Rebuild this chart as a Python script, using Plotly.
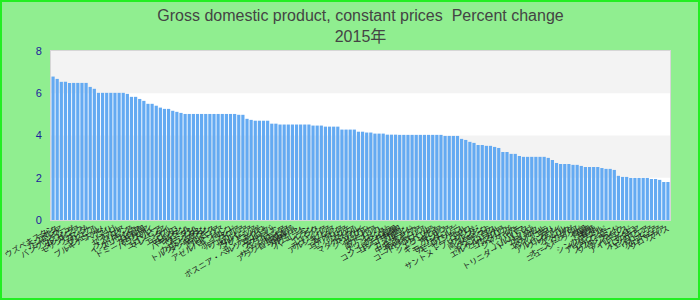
import plotly.graph_objects as go

title_line1 = "Gross domestic product, constant prices  Percent change"
title_line2 = "2015年"

countries = [
    "ウズベキスタン", "ラオス", "カンボジア", "ミャンマー", "バングラデシュ", "ルワンダ", "タンザニア", "モザンビーク",
    "ウガンダ", "ガーナ", "ザンビア", "ニジェール", "ブルキナファソ", "ベナン", "マリ", "トーゴ", "セネガル", "ケニア",
    "フィリピン", "インドネシア", "スリランカ", "パナマ", "ドミニカ共和国", "ボリビア", "パラグアイ", "ペルー",
    "コロンビア", "マレーシア", "タイ", "エジプト", "モロッコ", "ヨルダン", "パキスタン", "ネパール", "ブータン",
    "モンゴル", "カザフスタン", "トルクメニスタン", "タジキスタン", "キルギス", "アルメニア", "ジョージア",
    "アゼルバイジャン", "トルコ", "ポーランド", "ルーマニア", "ブルガリア", "セルビア", "アルバニア", "マケドニア",
    "コソボ", "モンテネグロ", "ボスニア・ヘルツェゴビナ", "モルドバ", "ウクライナ", "ベラルーシ", "ロシア",
    "サウジアラビア", "アラブ首長国連邦", "カタール", "オマーン", "クウェート", "バーレーン", "イラン", "イラク",
    "レバノン", "チュニジア", "アルジェリア", "リビア", "スーダン", "エチオピア", "エリトリア", "ジブチ", "ソマリア",
    "マダガスカル", "マラウイ", "ジンバブエ", "ボツワナ", "ナミビア", "南アフリカ", "レソト", "スワジランド",
    "アンゴラ", "コンゴ民主共和国", "コンゴ共和国", "ガボン", "カメルーン", "チャド", "中央アフリカ", "赤道ギニア",
    "ナイジェリア", "コートジボワール", "リベリア", "シエラレオネ", "ギニア", "ギニアビサウ", "ガンビア",
    "モーリタニア", "カーボベルデ", "モーリシャス", "セーシェル", "コモロ", "サントメ・プリンシペ", "ブルンジ",
    "南スーダン", "メキシコ", "グアテマラ", "ホンジュラス", "エルサルバドル", "ニカラグア", "コスタリカ", "ベリーズ",
    "ジャマイカ", "ハイチ", "バハマ", "バルバドス", "トリニダード・トバゴ", "ガイアナ", "スリナム", "エクアドル",
    "ベネズエラ", "チリ", "アルゼンチン", "ウルグアイ", "ブラジル", "アメリカ", "カナダ", "オーストラリア",
    "ニュージーランド", "韓国", "台湾", "香港", "シンガポール", "イスラエル", "アイスランド", "ノルウェー",
    "スウェーデン", "フィンランド", "デンマーク", "イギリス", "アイルランド", "チェコ", "スロバキア", "ハンガリー",
    "エストニア", "ラトビア", "リトアニア", "スロベニア", "クロアチア", "スイス",
]

growth = [
    6.79, 6.68, 6.54, 6.54, 6.49, 6.49, 6.49, 6.49, 6.49, 6.30,
    6.21, 6.02, 6.02, 6.02, 6.02, 6.02, 6.02, 6.02, 5.97, 5.83,
    5.83, 5.73, 5.64, 5.50, 5.50, 5.41, 5.32, 5.26, 5.26, 5.17,
    5.12, 5.07, 5.02, 5.02, 5.02, 5.02, 5.02, 5.02, 5.02, 5.02,
    5.02, 5.02, 5.02, 5.02, 5.02, 4.98, 4.98, 4.79, 4.74, 4.70,
    4.70, 4.70, 4.70, 4.56, 4.56, 4.52, 4.52, 4.52, 4.52, 4.52,
    4.52, 4.52, 4.52, 4.47, 4.47, 4.47, 4.42, 4.42, 4.42, 4.42,
    4.28, 4.28, 4.28, 4.28, 4.18, 4.18, 4.14, 4.14, 4.09, 4.09,
    4.09, 4.04, 4.04, 4.04, 4.03, 4.03, 4.03, 4.03, 4.03, 4.03,
    4.03, 4.03, 4.03, 4.03, 4.03, 3.98, 3.98, 3.98, 3.98, 3.84,
    3.79, 3.70, 3.65, 3.55, 3.55, 3.51, 3.51, 3.46, 3.41, 3.22,
    3.22, 3.13, 3.13, 3.03, 2.99, 2.99, 2.99, 2.99, 2.99, 2.99,
    2.94, 2.84, 2.70, 2.65, 2.65, 2.65, 2.61, 2.61, 2.56, 2.51,
    2.51, 2.51, 2.51, 2.46, 2.42, 2.42, 2.37, 2.09, 2.04, 2.04,
    1.99, 1.99, 1.99, 1.99, 1.99, 1.94, 1.94, 1.90, 1.80, 1.80,
]

y_ticks = [0, 2, 4, 6, 8]
bands = [(2, 4), (6, 8)]

FONT = "Liberation Sans, Arial, Noto Sans CJK JP, sans-serif"
W, H = 700, 300
M = dict(l=51, r=30, t=51, b=80)
pw = W - M["l"] - M["r"]
ph = H - M["t"] - M["b"]

fig = go.Figure(
    go.Bar(
        x=countries,
        y=growth,
        marker=dict(color="rgb(100,170,242)", line=dict(width=0)),
        hoverinfo="x+y",
    )
)

shapes = []
for lo, hi in bands:
    shapes.append(dict(type="rect", xref="paper", yref="y", x0=0, x1=1, y0=lo, y1=hi,
                       fillcolor="#f3f3f3", line=dict(width=0), layer="below"))
# outer frame around the whole picture
shapes.append(dict(type="rect", xref="paper", yref="paper",
                   x0=-(M["l"] - 1) / pw, x1=1 + (M["r"] - 1) / pw,
                   y0=-(M["b"] - 1) / ph, y1=1 + (M["t"] - 1) / ph,
                   line=dict(color="#22ee22", width=2), fillcolor="rgba(0,0,0,0)", layer="above"))

fig.update_layout(
    width=W, height=H,
    margin=dict(l=M["l"], r=M["r"], t=M["t"], b=M["b"], autoexpand=False),
    paper_bgcolor="#90ee90",
    plot_bgcolor="#ffffff",
    bargap=0.22,
    showlegend=False,
    font=dict(family=FONT),
    title=dict(
        text=title_line1 + "<br>" + title_line2,
        x=0.5, xanchor="center", xref="paper",
        y=0.93, yanchor="top", yref="container",
        font=dict(size=16, color="#444444", family=FONT),
    ),
    shapes=shapes,
    xaxis=dict(
        type="category",
        tickmode="linear", dtick=1,
        tickangle=-30,
        tickfont=dict(size=8, color="#222222", family=FONT),
        showgrid=False, zeroline=False,
        showline=True, linecolor="#d6d6d6", linewidth=1, mirror=True,
        ticks="",
        automargin=False,
    ),
    yaxis=dict(
        range=[0, 8],
        tickmode="array", tickvals=y_ticks,
        tickfont=dict(size=11, color="#1c1c9c", family=FONT),
        showgrid=False, zeroline=False,
        showline=True, linecolor="#d6d6d6", linewidth=1, mirror=True,
        ticks="outside", ticklen=6, tickcolor="rgba(0,0,0,0)",
        automargin=False,
    ),
)

fig.write_html("out.html")
